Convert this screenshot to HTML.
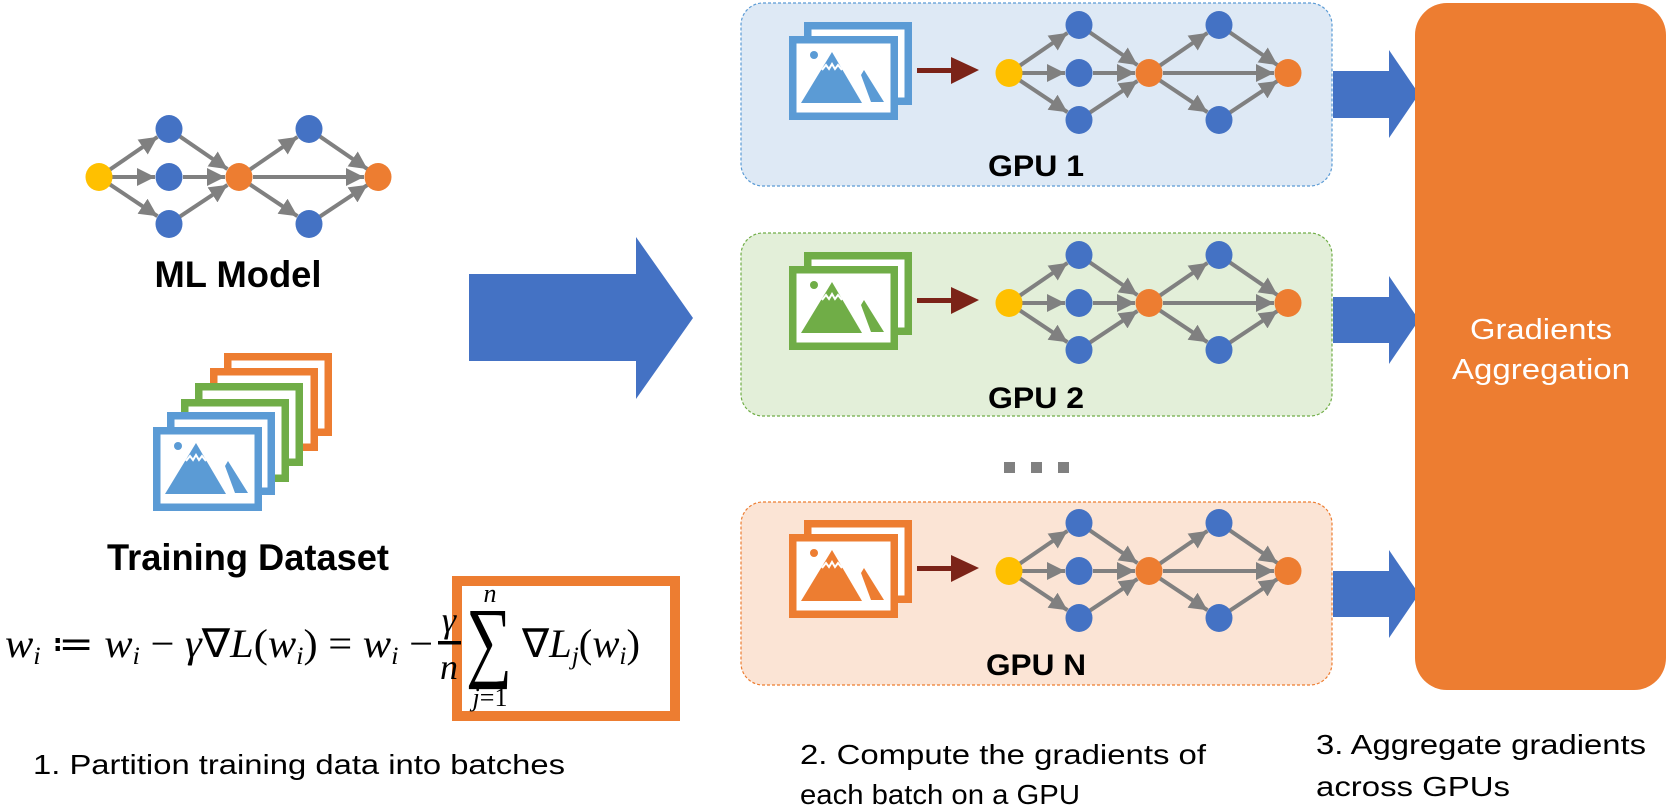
<!DOCTYPE html>
<html><head><meta charset="utf-8"><style>html,body{margin:0;padding:0;background:#fff}svg{display:block}</style></head>
<body>
<svg width="1673" height="809" viewBox="0 0 1673 809" xmlns="http://www.w3.org/2000/svg">
<defs>
<marker id="ah" viewBox="0 0 10 10" refX="10" refY="5" markerWidth="18" markerHeight="18" markerUnits="userSpaceOnUse" orient="auto">
<path d="M0,0 L10,5 L0,10 z" fill="#808080"/></marker>
<g id="net">
<g stroke="#808080" stroke-width="4" marker-end="url(#ah)" fill="none">
<line x1="10.7" y1="-7.3" x2="58.5" y2="-40.1"/>
<line x1="13" y1="0" x2="56" y2="0"/>
<line x1="10.7" y1="7.3" x2="58.5" y2="39.2"/>
<line x1="80.7" y1="-40.7" x2="128.5" y2="-7.9"/>
<line x1="84" y1="0" x2="126" y2="0"/>
<line x1="80.7" y1="39.7" x2="128.5" y2="7.9"/>
<line x1="150.7" y1="-7.3" x2="198.5" y2="-40.1"/>
<line x1="154" y1="0" x2="265" y2="0"/>
<line x1="150.7" y1="7.3" x2="198.5" y2="39.2"/>
<line x1="220.7" y1="-40.7" x2="268.5" y2="-7.9"/>
<line x1="220.7" y1="39.7" x2="268.5" y2="7.9"/>
</g>
<ellipse cx="0" cy="0" rx="13.5" ry="14" fill="#ffc000"/>
<ellipse cx="70" cy="-48" rx="13.5" ry="14" fill="#4472c4"/>
<ellipse cx="70" cy="0" rx="13.5" ry="14" fill="#4472c4"/>
<ellipse cx="70" cy="47" rx="13.5" ry="14" fill="#4472c4"/>
<ellipse cx="140" cy="0" rx="13.5" ry="14" fill="#ed7d31"/>
<ellipse cx="210" cy="-48" rx="13.5" ry="14" fill="#4472c4"/>
<ellipse cx="210" cy="47" rx="13.5" ry="14" fill="#4472c4"/>
<ellipse cx="279" cy="0" rx="13.5" ry="14" fill="#ed7d31"/>
</g>
<g id="pic">
<rect x="3.75" y="3.75" width="101.5" height="76.5" fill="#fff" stroke="currentColor" stroke-width="7.5"/>
<polygon points="12,67 43,16 73,67" fill="currentColor"/>
<polyline points="33,34 37,29 40,33 43,28 46,33 49,29 53,34" fill="none" stroke="#fff" stroke-width="2"/>
<polygon points="72,39 75,34 95,66 82,66" fill="currentColor"/>
<circle cx="25" cy="19" r="4" fill="currentColor"/>
</g>
<g id="back">
<rect x="3.75" y="3.75" width="100.5" height="75.5" fill="#fff" stroke="currentColor" stroke-width="7.5"/>
</g>
</defs>

<use href="#net" x="99" y="177"/>
<text x="238" y="287" text-anchor="middle" font-family="Liberation Sans, sans-serif" font-weight="bold" font-size="37" textLength="167" lengthAdjust="spacingAndGlyphs">ML Model</text>

<use href="#back" x="224" y="353" style="color:#ed7d31"/>
<use href="#back" x="210" y="368" style="color:#ed7d31"/>
<use href="#back" x="195" y="383" style="color:#70ad47"/>
<use href="#back" x="181" y="399" style="color:#70ad47"/>
<use href="#back" x="167" y="412" style="color:#5b9bd5"/>
<use href="#pic" x="153" y="427" style="color:#5b9bd5"/>
<text x="248" y="570" text-anchor="middle" font-family="Liberation Sans, sans-serif" font-weight="bold" font-size="37" textLength="282" lengthAdjust="spacingAndGlyphs">Training Dataset</text>

<rect x="457" y="581" width="218" height="135" fill="#fff" stroke="#ed7d31" stroke-width="10"/>
<text x="5" y="657" font-family="Liberation Serif, serif" font-style="italic" font-size="40" textLength="428" lengthAdjust="spacingAndGlyphs">w<tspan font-size="25" dy="7">i</tspan><tspan dy="-7" font-style="normal"> ≔ </tspan>w<tspan font-size="25" dy="7">i</tspan><tspan dy="-7" font-style="normal"> − </tspan>γ<tspan font-style="normal">∇</tspan>L<tspan font-style="normal">(</tspan>w<tspan font-size="25" dy="7">i</tspan><tspan dy="-7" font-style="normal">) = </tspan>w<tspan font-size="25" dy="7">i</tspan><tspan dy="-7" font-style="normal"> −</tspan></text>
<text x="449" y="632" text-anchor="middle" font-family="Liberation Serif, serif" font-style="italic" font-size="36">γ</text>
<rect x="438" y="641" width="23" height="3.5" fill="#000"/>
<text x="449" y="679" text-anchor="middle" font-family="Liberation Serif, serif" font-style="italic" font-size="36">n</text>
<text x="490" y="602" text-anchor="middle" font-family="Liberation Serif, serif" font-style="italic" font-size="26">n</text>
<text x="466" y="670" font-family="Liberation Serif, serif" font-size="90" textLength="46" lengthAdjust="spacingAndGlyphs">∑</text>
<text x="490" y="706" text-anchor="middle" font-family="Liberation Serif, serif" font-size="26"><tspan font-style="italic">j</tspan>=1</text>
<text x="522" y="657" font-family="Liberation Serif, serif" font-style="italic" font-size="40" textLength="118" lengthAdjust="spacingAndGlyphs"><tspan font-style="normal">∇</tspan>L<tspan font-size="25" dy="7">j</tspan><tspan dy="-7" font-style="normal">(</tspan>w<tspan font-size="25" dy="7">i</tspan><tspan dy="-7" font-style="normal">)</tspan></text>

<polygon points="469,274 636,274 636,237 693,318 636,399 636,361 469,361" fill="#4472c4"/>

<rect x="741" y="3" width="591" height="183" rx="22" fill="#dee9f5" stroke="#5b9bd5" stroke-width="1.2" stroke-dasharray="3,2"/>
<rect x="741" y="233" width="591" height="183" rx="22" fill="#e3efd9" stroke="#70ad47" stroke-width="1.2" stroke-dasharray="3,2"/>
<rect x="741" y="502" width="591" height="183" rx="22" fill="#fbe4d5" stroke="#ed7d31" stroke-width="1.2" stroke-dasharray="3,2"/>

<g>
<use href="#back" x="804" y="22" style="color:#5b9bd5"/>
<use href="#pic" x="789" y="36" style="color:#5b9bd5"/>
<rect x="917" y="68" width="36" height="5" fill="#7b2318"/><polygon points="951,57 979,70 951,84" fill="#7b2318"/>
<use href="#net" x="1009" y="73"/>
<text x="1036" y="176" text-anchor="middle" font-family="Liberation Sans, sans-serif" font-weight="bold" font-size="30" textLength="96" lengthAdjust="spacingAndGlyphs">GPU 1</text>
</g>
<g transform="translate(0,230)">
<use href="#back" x="804" y="22" style="color:#70ad47"/>
<use href="#pic" x="789" y="36" style="color:#70ad47"/>
<rect x="917" y="68" width="36" height="5" fill="#7b2318"/><polygon points="951,57 979,70 951,84" fill="#7b2318"/>
<use href="#net" x="1009" y="73"/>
<text x="1036" y="178" text-anchor="middle" font-family="Liberation Sans, sans-serif" font-weight="bold" font-size="30" textLength="96" lengthAdjust="spacingAndGlyphs">GPU 2</text>
</g>
<g transform="translate(0,498)">
<use href="#back" x="804" y="22" style="color:#ed7d31"/>
<use href="#pic" x="789" y="36" style="color:#ed7d31"/>
<rect x="917" y="68" width="36" height="5" fill="#7b2318"/><polygon points="951,57 979,70 951,84" fill="#7b2318"/>
<use href="#net" x="1009" y="73"/>
<text x="1036" y="177" text-anchor="middle" font-family="Liberation Sans, sans-serif" font-weight="bold" font-size="30" textLength="100" lengthAdjust="spacingAndGlyphs">GPU N</text>
</g>

<rect x="1004" y="462" width="11" height="11" fill="#808080"/>
<rect x="1031" y="462" width="11" height="11" fill="#808080"/>
<rect x="1058" y="462" width="11" height="11" fill="#808080"/>

<polygon points="1333,71 1389,71 1389,50 1419,94 1389,138 1389,118 1333,118" fill="#4472c4"/>
<polygon points="1333,297 1389,297 1389,276 1419,320 1389,364 1389,343 1333,343" fill="#4472c4"/>
<polygon points="1333,571 1389,571 1389,550 1419,594 1389,638 1389,617 1333,617" fill="#4472c4"/>

<rect x="1415" y="3" width="251" height="687" rx="32" fill="#ed7d31"/>
<text x="1541" y="339" text-anchor="middle" font-family="Liberation Sans, sans-serif" font-size="29" fill="#fff" textLength="142" lengthAdjust="spacingAndGlyphs">Gradients</text>
<text x="1541" y="379" text-anchor="middle" font-family="Liberation Sans, sans-serif" font-size="29" fill="#fff" textLength="178" lengthAdjust="spacingAndGlyphs">Aggregation</text>

<g font-family="Liberation Sans, sans-serif" font-size="28" fill="#000">
<text x="33" y="774" textLength="532" lengthAdjust="spacingAndGlyphs">1. Partition training data into batches</text>
<text x="800" y="764" textLength="406" lengthAdjust="spacingAndGlyphs">2. Compute the gradients of</text>
<text x="800" y="804" textLength="280" lengthAdjust="spacingAndGlyphs">each batch on a GPU</text>
<text x="1316" y="754" textLength="330" lengthAdjust="spacingAndGlyphs">3. Aggregate gradients</text>
<text x="1316" y="796" textLength="194" lengthAdjust="spacingAndGlyphs">across GPUs</text>
</g>
</svg>
</body></html>
